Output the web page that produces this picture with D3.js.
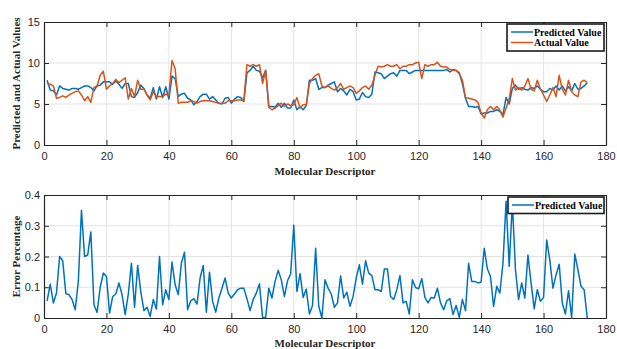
<!DOCTYPE html>
<html>
<head>
<meta charset="utf-8">
<script src="https://cdn.jsdelivr.net/npm/d3@7"></script>
<style>
  body { margin: 0; background: #fff; }
  svg { display: block; }
  .tick text { font-family: Arial, "Liberation Sans", sans-serif; font-size: 11px; fill: #262626; }
  .title { font-family: "Times New Roman", "Liberation Serif", serif; font-weight: bold; font-size: 11px; fill: #262626; }
  .leg { font-family: "Times New Roman", "Liberation Serif", serif; font-weight: bold; font-size: 10px; fill: #000; }
</style>
</head>
<body>
<script>
// values, descriptor index 1..174
const predicted = [
  7.9,6.7,6.6,6.1,7.2,6.9,6.8,6.7,6.9,6.9, 6.8,7.0,7.2,7.2,7.0,6.6,7.2,7.3,7.7,7.7,
  7.7,7.4,7.8,7.4,6.9,7.5,7.5,5.9,5.8,6.4, 7.3,6.9,6.1,5.7,7.0,5.6,7.1,5.8,7.1,5.6,
  8.4,8.1,5.9,6.2,6.3,5.7,5.5,4.9,5.3,5.9, 6.2,6.2,5.6,5.9,5.5,5.1,5.0,5.7,5.8,5.1,
  5.6,5.9,5.8,5.3,8.8,9.1,9.6,9.1,9.0,8.2, 9.1,4.7,4.7,4.6,5.1,4.6,5.1,4.5,4.5,5.5,
  4.3,4.7,4.3,4.8,7.9,7.9,8.1,6.8,7.0,7.0, 7.3,7.5,7.7,6.5,6.9,6.6,6.1,6.8,6.5,5.5,
  5.6,6.4,5.9,5.8,6.2,8.9,8.8,8.7,8.1,8.4, 8.7,8.8,8.4,9.1,9.1,9.1,8.7,8.9,9.1,9.1,
  9.1,9.1,9.1,9.1,9.1,9.1,9.1,9.1,9.2,8.9, 9.2,9.1,8.8,7.5,5.7,4.7,4.7,4.6,4.7,3.8,
  3.9,3.9,4.1,4.1,4.3,4.1,3.7,5.8,5.0,6.9, 7.3,6.8,7.0,6.8,6.7,7.0,6.9,7.2,6.8,6.5,
  6.5,6.9,6.7,7.2,6.7,7.2,6.6,7.1,6.6,7.5, 6.8,6.9,7.2,7.6
];
const actual = [
  7.5,7.4,7.2,5.7,5.8,6.0,5.8,6.1,6.3,6.5, 6.6,6.1,5.4,5.9,5.2,7.0,7.2,8.5,9.0,6.8,
  7.2,7.5,8.0,7.6,7.9,8.2,5.6,6.9,5.9,7.9, 6.8,6.8,6.1,5.5,6.5,5.9,5.9,5.9,6.2,6.1,
  10.3,9.3,5.1,5.2,5.2,5.2,5.4,5.3,5.1,5.3, 5.4,5.4,5.4,5.3,5.2,5.1,5.1,5.1,5.4,5.4,
  5.4,5.5,5.5,5.4,9.8,9.6,9.8,9.6,9.8,7.5, 9.1,4.6,4.3,4.5,4.8,5.1,4.7,5.0,4.8,4.9,
  5.8,4.5,4.9,4.9,7.5,8.1,8.5,8.7,7.2,7.0, 7.2,6.9,6.7,7.0,7.5,6.8,7.0,7.2,7.0,6.3,
  6.6,7.0,7.2,6.8,7.3,8.5,9.6,9.5,9.6,9.8, 9.6,9.6,9.8,9.3,9.6,9.6,9.8,9.8,10.0,10.1,
  8.1,9.8,9.6,9.8,9.8,10.1,9.6,9.5,9.5,9.2, 9.1,9.1,8.7,7.9,5.8,5.7,5.6,5.5,5.2,3.9,
  3.3,4.3,4.7,4.3,4.7,4.3,3.4,4.5,5.6,8.1, 6.7,7.0,6.7,7.2,8.1,6.8,6.6,7.9,6.8,6.1,
  5.3,6.1,7.0,5.9,8.5,6.8,6.1,7.9,6.5,6.1, 5.9,7.7,7.9,7.6
];
const errorPct = [
  0.056,0.110,0.049,0.081,0.200,0.186,0.079,0.076,0.060,0.027, 0.120,0.350,0.200,0.205,0.280,0.043,0.018,0.100,0.146,0.135,
  0.016,0.070,0.078,0.114,0.076,0.011,0.078,0.178,0.035,0.171, 0.086,0.024,0.035,0.005,0.060,0.029,0.200,0.043,0.092,0.060,
  0.182,0.108,0.076,0.178,0.214,0.027,0.056,0.063,0.045,0.130, 0.171,0.019,0.149,0.054,0.019,0.065,0.097,0.130,0.081,0.065,
  0.078,0.092,0.097,0.097,0.063,0.024,0.060,0.081,0.111,0.002, 0.002,0.097,0.065,0.119,0.155,0.124,0.070,0.121,0.144,0.302,
  0.086,0.144,0.067,0.094,0.013,0.041,0.227,0.038,0.000,0.124, 0.097,0.078,0.035,0.049,0.137,0.065,0.084,0.038,0.070,0.130,
  0.173,0.110,0.186,0.146,0.138,0.092,0.092,0.086,0.159,0.159, 0.070,0.060,0.092,0.138,0.049,0.054,0.013,0.124,0.099,0.095,
  0.128,0.067,0.049,0.067,0.065,0.097,0.049,0.027,0.056,0.063, 0.011,0.041,0.002,0.060,0.024,0.178,0.119,0.119,0.114,0.117,
  0.227,0.160,0.135,0.038,0.103,0.081,0.178,0.380,0.168,0.376, 0.157,0.060,0.114,0.065,0.205,0.114,0.030,0.092,0.054,0.067,
  0.254,0.189,0.097,0.140,0.175,0.049,0.013,0.089,0.000,0.208, 0.157,0.103,0.092,0.000
];
const xTicks = [0, 20, 40, 60, 80, 100, 120, 140, 160, 180];
const yTicksTop = [0, 5, 10, 15];
const yTicksBottom = [0, 0.1, 0.2, 0.3, 0.4];

const W = 617, H = 349;
const blue = '#0072BD', orange = '#D95319', axisColor = '#262626', gridColor = '#e3e3e3';

const svg = d3.select('body').append('svg').attr('width', W).attr('height', H);

const x = d3.scaleLinear().domain([0, 180]).range([44, 606]);

function panel(top, bottom, yDomain, yTicks, yLabel, fmt, titleY) {
  const y = d3.scaleLinear().domain(yDomain).range([bottom, top]);
  const g = svg.append('g');

  // grid
  g.selectAll('.gx').data(xTicks.slice(1, -1)).enter().append('line')
    .attr('x1', d => x(d)).attr('x2', d => x(d)).attr('y1', top).attr('y2', bottom)
    .attr('stroke', gridColor).attr('stroke-width', 1);
  g.selectAll('.gy').data(yTicks.slice(1, -1)).enter().append('line')
    .attr('x1', 44).attr('x2', 606).attr('y1', d => y(d)).attr('y2', d => y(d))
    .attr('stroke', gridColor).attr('stroke-width', 1);

  // axes, inward ticks on all four sides
  const style = a => a.call(s => s.select('.domain').attr('stroke', axisColor))
    .call(s => s.selectAll('.tick line').attr('stroke', axisColor));
  g.append('g').attr('transform', `translate(0,${bottom})`)
    .call(d3.axisBottom(x).tickValues(xTicks).tickSizeInner(-5).tickSizeOuter(0).tickPadding(7))
    .call(style);
  g.append('g').attr('transform', `translate(0,${top})`)
    .call(d3.axisTop(x).tickValues(xTicks).tickSizeInner(-5).tickSizeOuter(0).tickFormat(''))
    .call(style);
  g.append('g').attr('transform', 'translate(44,0)')
    .call(d3.axisLeft(y).tickValues(yTicks).tickSizeInner(-5).tickSizeOuter(0).tickPadding(4).tickFormat(fmt))
    .call(style);
  g.append('g').attr('transform', 'translate(606,0)')
    .call(d3.axisRight(y).tickValues(yTicks).tickSizeInner(-5).tickSizeOuter(0).tickFormat(''))
    .call(style);
  g.selectAll('.domain').attr('stroke-width', 1.2);

  g.append('text').attr('class', 'title')
    .attr('transform', `translate(20,${(top + bottom) / 2}) rotate(-90)`)
    .attr('text-anchor', 'middle').text(yLabel);
  g.append('text').attr('class', 'title')
    .attr('x', 325).attr('y', titleY)
    .attr('text-anchor', 'middle').text('Molecular Descriptor');
  return y;
}

const line = (yS, vals) => d3.line().x((d, i) => x(i + 1)).y(d => yS(d))(vals);

// top panel
const yTop = panel(22, 145, [0, 15], yTicksTop, 'Predicted and Actual Values', d3.format('d'), 175);
svg.append('path').attr('d', line(yTop, predicted)).attr('fill', 'none')
  .attr('stroke', blue).attr('stroke-width', 1.5).attr('stroke-linejoin', 'round');
svg.append('path').attr('d', line(yTop, actual)).attr('fill', 'none')
  .attr('stroke', orange).attr('stroke-width', 1.5).attr('stroke-linejoin', 'round');

// bottom panel
const yBot = panel(195, 318, [0, 0.4], yTicksBottom, 'Error Percentage', d => d === 0 ? '0' : d3.format('.1f')(d), 347);
svg.append('path').attr('d', line(yBot, errorPct)).attr('fill', 'none')
  .attr('stroke', blue).attr('stroke-width', 1.5).attr('stroke-linejoin', 'round');

// legends
function legend(lx, ly, w, items) {
  const g = svg.append('g').attr('transform', `translate(${lx},${ly})`);
  g.append('rect').attr('width', w).attr('height', 6 + items.length * 10.5)
    .attr('fill', '#fff').attr('stroke', '#1a1a1a').attr('stroke-width', 1.6);
  items.forEach((it, i) => {
    const cy = 8 + i * 10.5;
    g.append('line').attr('x1', 4).attr('x2', 26).attr('y1', cy).attr('y2', cy)
      .attr('stroke', it.color).attr('stroke-width', 1.5);
    g.append('text').attr('class', 'leg').attr('x', 27).attr('y', cy + 3.5).text(it.label);
  });
}
legend(507, 24, 97, [{ label: 'Predicted Value', color: blue }, { label: 'Actual Value', color: orange }]);
legend(508, 197, 96, [{ label: 'Predicted Value', color: blue }]);
</script>
</body>
</html>
